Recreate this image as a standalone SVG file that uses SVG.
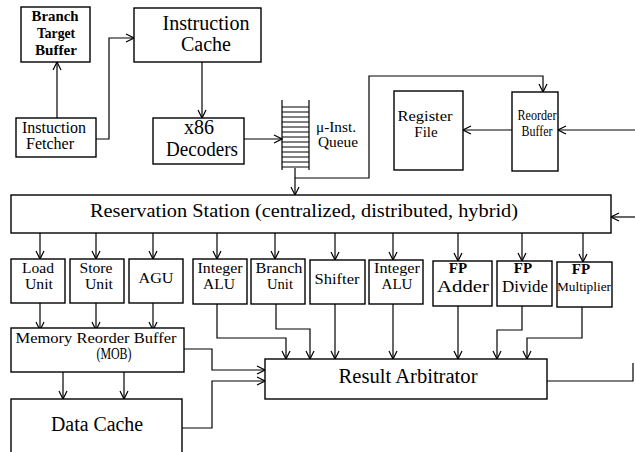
<svg xmlns="http://www.w3.org/2000/svg" width="635" height="452" viewBox="0 0 635 452">
<defs>
<marker id="a" markerWidth="10" markerHeight="10" refX="9" refY="5" orient="auto" markerUnits="userSpaceOnUse"><path d="M1,1 L9,5 L1,9" fill="none" stroke="#000" stroke-width="1.2"/></marker>
<style>
rect{fill:#fff;stroke:#000;stroke-width:1.4}
text{font-family:"Liberation Serif","Times New Roman",serif;fill:#000;text-anchor:middle}
.c line,.c polyline{fill:none;stroke:#000;stroke-width:1.2}
.arr{marker-end:url(#a)}
.b{font-weight:bold}
.s14{font-size:14px}
.s15{font-size:15px}
.s16{font-size:16px}
.s20{font-size:20px}
</style>
</defs>
<rect x="0" y="0" width="635" height="452" style="stroke:none;fill:#fff"/>
<g class="c" id="connectors">
<polyline class="arr" points="57,118 57,62"/>
<polyline class="arr" points="96,139 109,139 109,38 134,38"/>
<polyline class="arr" points="202,62 202,118"/>
<polyline class="arr" points="244,139 282,139"/>
<polyline class="arr" points="295,168 295,195"/>
<polyline class="arr" points="295,178 369,178 369,76 543,76 543,92"/>
<polyline class="arr" points="512,130 463,130"/>
<polyline class="arr" points="635,130 558,130"/>
<polyline class="arr" points="635,217 611,217"/>
<polyline class="arr" points="40,233 40,259"/>
<polyline class="arr" points="96,233 96,259"/>
<polyline class="arr" points="153,233 153,259"/>
<polyline class="arr" points="217,233 217,259"/>
<polyline class="arr" points="275,233 275,259"/>
<polyline class="arr" points="335,233 335,260"/>
<polyline class="arr" points="393,233 393,260"/>
<polyline class="arr" points="458,233 458,261"/>
<polyline class="arr" points="522,233 522,261"/>
<polyline class="arr" points="583,233 583,262"/>
<polyline class="arr" points="40,303 40,330"/>
<polyline class="arr" points="96,303 96,330"/>
<polyline class="arr" points="153,303 153,330"/>
<polyline class="arr" points="63,372 63,399"/>
<polyline class="arr" points="124,372 124,399"/>
<polyline class="arr" points="184,349 212,349 212,370 265,370"/>
<polyline class="arr" points="182,428 212,428 212,381 265,381"/>
<polyline class="arr" points="217,304 217,338 286,338 286,359"/>
<polyline class="arr" points="276,304 276,329 310,329 310,359"/>
<polyline class="arr" points="335,304 335,359"/>
<polyline class="arr" points="393,304 393,359"/>
<polyline class="arr" points="458,306 458,359"/>
<polyline class="arr" points="522,306 522,330 497,330 497,359"/>
<polyline class="arr" points="582,307 582,338 527,338 527,359"/>
<polyline points="547,381 633,381 633,363"/>
</g>
<g id="btb"><rect x="21" y="7" width="69" height="55"/><text class="b s14" x="55" y="21" textLength="47" lengthAdjust="spacingAndGlyphs">Branch</text><text class="b s14" x="56" y="38" textLength="38" lengthAdjust="spacingAndGlyphs">Target</text><text class="b s14" x="56" y="55" textLength="42" lengthAdjust="spacingAndGlyphs">Buffer</text></g>
<g id="icache"><rect x="134" y="8" width="127" height="54"/><text class="s20" x="206" y="30" textLength="87" lengthAdjust="spacingAndGlyphs">Instruction</text><text class="s20" x="206" y="51">Cache</text></g>
<g id="fetcher"><rect x="16" y="118" width="80" height="39"/><text class="s16" x="54" y="133" textLength="64" lengthAdjust="spacingAndGlyphs">Instuction</text><text class="s16" x="50" y="149" textLength="48" lengthAdjust="spacingAndGlyphs">Fetcher</text></g>
<g id="decoders"><rect x="153" y="118" width="91" height="46"/><text class="s20" x="199" y="134">x86</text><text class="s20" x="202" y="156" textLength="72" lengthAdjust="spacingAndGlyphs">Decoders</text></g>
<g id="queue">
<line x1="282" y1="100" x2="282" y2="170" stroke="#000" stroke-width="1.2"/>
<line x1="309" y1="100" x2="309" y2="170" stroke="#000" stroke-width="1.2"/>
<path d="M282,107H309M282,112H309M282,117H309M282,122H309M282,127H309M282,132H309M282,137H309M282,142H309M282,147H309M282,152H309M282,157H309M282,162H309M282,167H309" stroke="#000" stroke-width="1"/>
<text class="s14" x="316" y="132" style="text-anchor:start" textLength="40" lengthAdjust="spacingAndGlyphs">μ-Inst.</text><text class="s14" x="318" y="147" style="text-anchor:start" textLength="40" lengthAdjust="spacingAndGlyphs">Queue</text>
</g>
<g id="regfile"><rect x="394" y="91" width="69" height="79"/><text class="s15" x="425" y="121" textLength="55" lengthAdjust="spacingAndGlyphs">Register</text><text class="s15" x="426" y="137">File</text></g>
<g id="rob"><rect x="512" y="92" width="46" height="79"/><text class="s15" x="537" y="120" textLength="39" lengthAdjust="spacingAndGlyphs">Reorder</text><text class="s15" x="537" y="136" textLength="31" lengthAdjust="spacingAndGlyphs">Buffer</text></g>
<g id="rs"><rect x="11" y="195" width="600" height="38"/><text x="304" y="217" style="font-size:19.5px" textLength="428" lengthAdjust="spacingAndGlyphs">Reservation Station (centralized, distributed, hybrid)</text></g>
<g id="load"><rect x="11" y="259" width="54" height="44"/><text class="s15" x="38" y="273" textLength="32" lengthAdjust="spacingAndGlyphs">Load</text><text class="s15" x="39" y="289" textLength="28" lengthAdjust="spacingAndGlyphs">Unit</text></g>
<g id="store"><rect x="70" y="259" width="54" height="44"/><text class="s15" x="96" y="273" textLength="33" lengthAdjust="spacingAndGlyphs">Store</text><text class="s15" x="99" y="289" textLength="28" lengthAdjust="spacingAndGlyphs">Unit</text></g>
<g id="agu"><rect x="129" y="259" width="54" height="44"/><text class="s15" x="156" y="283" textLength="35" lengthAdjust="spacingAndGlyphs">AGU</text></g>
<g id="ialu1"><rect x="193" y="259" width="54" height="45"/><text class="s15" x="220" y="273" textLength="45" lengthAdjust="spacingAndGlyphs">Integer</text><text class="s15" x="219" y="289" textLength="32" lengthAdjust="spacingAndGlyphs">ALU</text></g>
<g id="branch"><rect x="251" y="259" width="54" height="45"/><text class="s15" x="279" y="273" textLength="47" lengthAdjust="spacingAndGlyphs">Branch</text><text class="s15" x="280" y="289" textLength="26" lengthAdjust="spacingAndGlyphs">Unit</text></g>
<g id="shifter"><rect x="310" y="260" width="55" height="44"/><text class="s15" x="337" y="284" textLength="45" lengthAdjust="spacingAndGlyphs">Shifter</text></g>
<g id="ialu2"><rect x="369" y="260" width="54" height="44"/><text class="s15" x="397" y="273" textLength="46" lengthAdjust="spacingAndGlyphs">Integer</text><text class="s15" x="397" y="289" textLength="31" lengthAdjust="spacingAndGlyphs">ALU</text></g>
<g id="fpadd"><rect x="433" y="261" width="59" height="45"/><text class="b s15" x="458" y="273">FP</text><text class="s16" x="463" y="292" textLength="52" lengthAdjust="spacingAndGlyphs">Adder</text></g>
<g id="fpdiv"><rect x="497" y="261" width="55" height="45"/><text class="b s15" x="523" y="273">FP</text><text class="s16" x="525" y="292" textLength="46" lengthAdjust="spacingAndGlyphs">Divide</text></g>
<g id="fpmul"><rect x="557" y="262" width="55" height="45"/><text class="b s15" x="581" y="274">FP</text><text x="584" y="291" style="font-size:12px" textLength="54" lengthAdjust="spacingAndGlyphs">Multiplier</text></g>
<g id="mob"><rect x="11" y="328" width="173" height="44"/><text class="s15" x="96" y="343" textLength="161" lengthAdjust="spacingAndGlyphs">Memory Reorder Buffer</text><text class="s16" x="114" y="359" textLength="35" lengthAdjust="spacingAndGlyphs">(MOB)</text></g>
<g id="dcache"><rect x="11" y="399" width="171" height="60"/><text class="s20" x="97" y="431" textLength="92" lengthAdjust="spacingAndGlyphs">Data Cache</text></g>
<g id="arbiter"><rect x="265" y="359" width="282" height="40"/><text class="s20" x="408" y="383" textLength="139" lengthAdjust="spacingAndGlyphs">Result Arbitrator</text></g>
</svg>
